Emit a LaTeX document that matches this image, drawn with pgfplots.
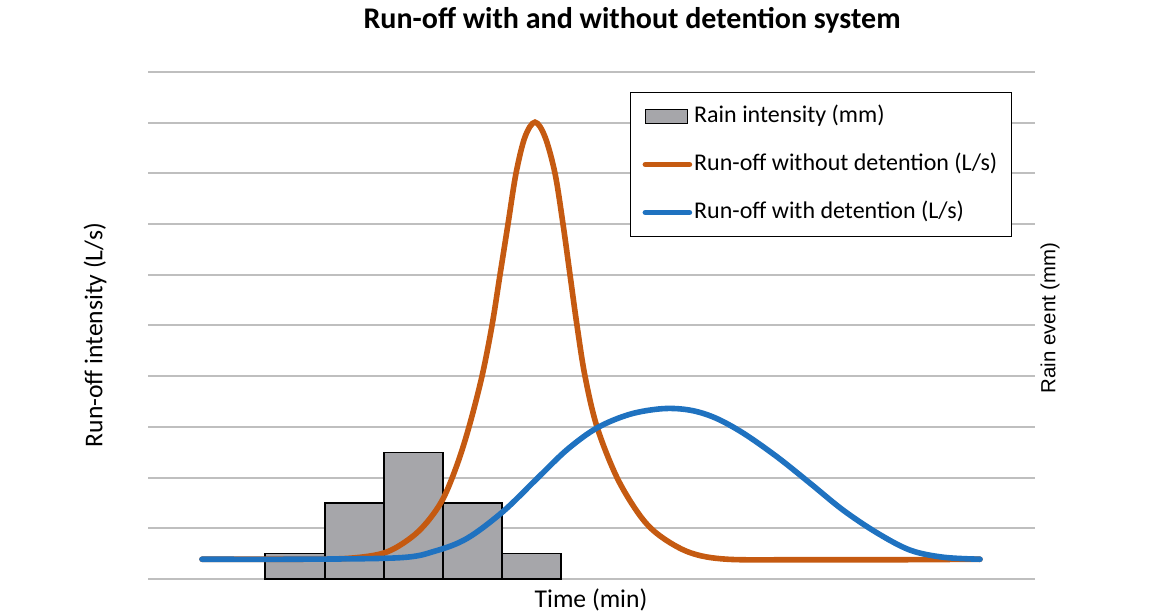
\documentclass[border=0pt]{standalone}
\usepackage{pgfplots}
\pgfplotsset{compat=1.18}
\usepackage{fontspec}
\setmainfont{Carlito}
\newfontfamily\arialfont{Liberation Sans}
\definecolor{gridgray}{RGB}{191,191,191}
\definecolor{barfill}{RGB}{166,166,170}
\definecolor{runorange}{RGB}{197,90,17}
\definecolor{runblue}{RGB}{31,114,192}

\begin{document}
\begin{tikzpicture}
% 1 px of the reference = 0.5pt
\useasboundingbox (-74pt,-17pt) rectangle (503pt,289.5pt);
\begin{axis}[
    scale only axis,
    width=443.5pt, height=253.5pt,
    xmin=148, xmax=1035,
    ymin=0, ymax=10,
    axis line style={draw=none},
    xtick=\empty,
    ytick={0,1,...,10},
    yticklabels={},
    major tick length=0pt,
    ymajorgrids,
    grid style={gridgray, line width=1pt},
    clip=false,
    legend cell align=left,
    legend style={
        at={(0.5434,0.9606)}, anchor=north west,
        draw=black, line width=0.6pt,
        font=\fontsize{12}{14}\selectfont,
        inner xsep=6pt, inner ysep=5pt,
        row sep=10pt,
        nodes={text height=9pt, text depth=3pt, inner sep=1pt},
    },
]
% rain bars
\addplot[ybar interval, fill=barfill, draw=black, line width=0.65pt,
    legend image code/.code={\draw[fill=barfill, draw=black, line width=0.65pt] (0pt,-3.5pt) rectangle (21pt,3.5pt);}]
coordinates {(265,0.5) (325,1.5) (384,2.5) (443,1.5) (502,0.5) (561,0.5)};
\addlegendentry{Rain intensity (mm)}

% run-off without detention
\addplot[runorange, line width=2.8pt, line cap=round, smooth, tension=0.55,
    legend image code/.code={\draw[runorange, line width=2.8pt, line cap=round] (0pt,0pt) -- (22pt,0pt);}]
coordinates {
(202,0.39) (300,0.39) (350,0.41) (385,0.52) (410,0.80) (427,1.12) (443,1.58)
(457,2.25) (469,3.0) (482,4.0) (492,5.0) (500,6.0) (508,7.0) (516,8.0)
(525,8.72) (535,9.01) (545,8.72) (555,8.0) (563,7.0) (570,6.0) (577,5.0)
(585,4.0) (597,3.0) (617,2.0) (640,1.25) (660,0.85) (690,0.52) (727,0.39)
(800,0.38) (900,0.38) (980,0.39)
};
\addlegendentry{Run-off without detention (L/s)}

% run-off with detention
\addplot[runblue, line width=2.8pt, line cap=round, smooth, tension=0.55,
    legend image code/.code={\draw[runblue, line width=2.8pt, line cap=round] (0pt,0pt) -- (22pt,0pt);}]
coordinates {
(202,0.39) (300,0.39) (400,0.42) (435,0.55) (467,0.80) (503,1.33) (537,1.98)
(567,2.55) (597,2.98) (630,3.25) (663,3.36) (690,3.33) (715,3.18) (743,2.88)
(777,2.41) (810,1.89) (843,1.36) (877,0.91) (910,0.57) (943,0.43) (980,0.39)
};
\addlegendentry{Run-off with detention (L/s)}

% titles and labels
\node[font=\fontsize{15}{17}\selectfont\bfseries] at (axis cs:632,11.02) {Run-off with and without detention system};
\node[font=\fontsize{12.8}{15}\selectfont] at (axis cs:591,-0.42) {Time (min)};
\node[font=\fontsize{12.8}{15}\selectfont, rotate=90] at (axis cs:95,4.81) {Run-off intensity (L/s)};
\node[font=\arialfont\fontsize{10.2}{12}\selectfont, rotate=90] at (axis cs:1050,5.15) {Rain event (mm)};
\end{axis}
\end{tikzpicture}
\end{document}
